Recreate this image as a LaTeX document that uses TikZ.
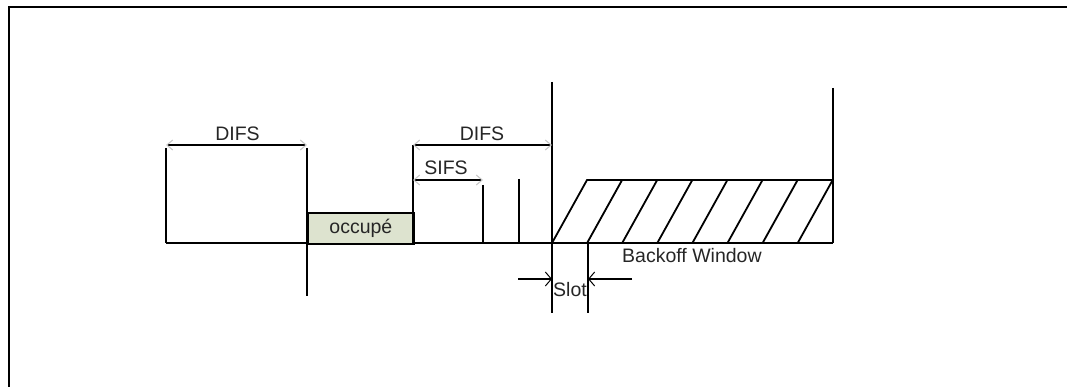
\documentclass[tikz,border=0pt]{standalone}
\usepackage{fontspec}
\setmainfont{Liberation Sans}
\usetikzlibrary{arrows.meta}
\begin{document}
\begin{tikzpicture}[x=1pt,y=-1pt,
  ln/.style={line width=1.8pt,black},
  dimarrow/.style={line width=1.5pt,{Straight Barb[color=gray!45,length=6pt,width=10pt,line width=1pt]}-{Straight Barb[color=gray!45,length=6pt,width=10pt,line width=1pt]}},
  slotarrow/.style={line width=1.5pt,-{Straight Barb[length=6pt,width=14pt,line width=1pt]}},
  lbl/.style={inner sep=0pt,font=\fontsize{19.5}{21}\selectfont,text=black!85}]
\useasboundingbox (0,0) rectangle (1067,387);
% frame
\draw[line width=1.8pt] (9,387) -- (9,7) -- (1067,7);
% coordinates
\coordinate (b0) at (166,243);
\coordinate (bE) at (833,243);
\coordinate (d1a) at (166,145);
\coordinate (d1b) at (307,145);
\coordinate (v1t) at (307,148);
\coordinate (v1b) at (307,296);
\coordinate (d2a) at (413,145);
\coordinate (d2b) at (552,145);
\coordinate (s1a) at (413,180);
\coordinate (s1b) at (483,180);
\coordinate (v0t) at (166,148);
% baseline
\draw[ln] (b0) -- (bE);
\draw[ln] (v0t) -- (b0);
\draw[ln] (v1t) -- (v1b);
% occupe box
\node[draw,line width=1.8pt,fill={rgb,255:red,221;green,227;blue,207},minimum width=106pt,minimum height=31pt,inner sep=0pt,anchor=north west,font=\fontsize{19.5}{21}\selectfont,text=black!85] (occ) at (307,212) {occupé};
% verticals
\draw[ln] (d2a) -- (413,243);
\draw[ln] (483,185) -- (483,243);
\draw[ln] (519,179) -- (519,243);
\draw[ln] (552,82) -- (552,313);
\draw[ln] (588,243) -- (588,313);
\draw[ln] (833,88) -- (bE);
% dimension arrows
\draw[dimarrow] (d1a) -- (d1b);
\draw[dimarrow] (d2a) -- (d2b);
\draw[dimarrow] (s1a) -- (s1b);
\node[lbl] (dl1) at (237.5,134) {DIFS};
\node[lbl] (dl2) at (482,134) {DIFS};
\node[lbl] (sl) at (446,168) {SIFS};
% backoff window
\draw[ln] (552,243) -- (587,180) -- (833,180);
\foreach \i in {1,...,7} {
  \draw[ln] ({552+35.1*\i},243) -- ({587+35.1*\i},180);
}
\node[lbl,anchor=west] (bw) at (622,256) {Backoff Window};
% slot
\coordinate (sa1) at (518,279);
\coordinate (sa2) at (552,279);
\coordinate (sb1) at (632,279);
\coordinate (sb2) at (588,279);
\draw[slotarrow] (sa1) -- (sa2);
\draw[slotarrow] (sb1) -- (sb2);
\node[lbl] (slot) at (570,290) {Slot};
\end{tikzpicture}
\end{document}
